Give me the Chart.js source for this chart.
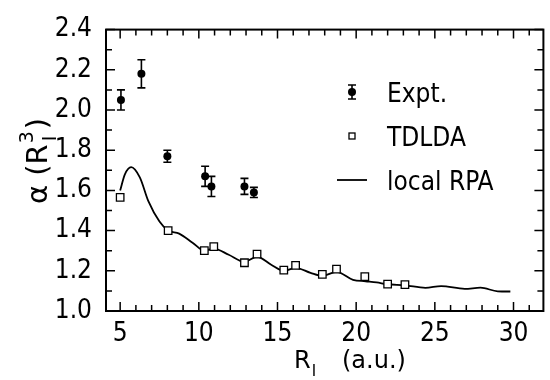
<!DOCTYPE html>
<html>
<head>
<meta charset="utf-8">
<script src="https://cdn.jsdelivr.net/npm/chart.js@4/dist/chart.umd.min.js"></script>
<style>
html,body{margin:0;padding:0;background:#fff;}
#wrap{width:550px;height:380px;}
</style>
</head>
<body>
<div id="wrap"><canvas id="c" width="550" height="380"></canvas></div>
<script>
// ---- data ----
const exptX   = [5.05, 6.35, 8.0, 10.4, 10.8, 12.9, 13.5];
const exptY   = [2.05, 2.18, 1.77, 1.67, 1.62, 1.62, 1.59];
const exptErr = [0.05, 0.07, 0.03, 0.05, 0.05, 0.04, 0.025];

const tdldaX = [5.0, 8.05, 10.35, 10.95, 12.9, 13.7, 15.4, 16.15, 17.85, 18.75, 20.55, 22.0, 23.1];
const tdldaY = [1.565, 1.40, 1.30, 1.32, 1.24, 1.283, 1.203, 1.227, 1.182, 1.208, 1.171, 1.134, 1.131];

const rpaX = [5.0, 5.3, 5.7, 6.25, 6.8, 7.5, 8.05, 8.75, 9.6, 10.35, 10.95, 11.9, 12.9, 13.7, 14.6, 15.4, 16.15, 17.1, 17.85, 18.75, 19.8, 20.6, 21.3, 22.0, 23.1, 24.4, 25.4, 26.9, 27.9, 29.0, 29.8];
const rpaY = [1.60, 1.68, 1.716, 1.665, 1.545, 1.445, 1.40, 1.385, 1.34, 1.30, 1.31, 1.28, 1.245, 1.27, 1.23, 1.20, 1.215, 1.19, 1.175, 1.195, 1.155, 1.148, 1.142, 1.133, 1.128, 1.115, 1.124, 1.11, 1.116, 1.098, 1.097];

const xTickLabels = [5, 10, 15, 20, 25, 30];
const yTickLabels = [1.0, 1.2, 1.4, 1.6, 1.8, 2.0, 2.2, 2.4];
const legendLabels = ["Expt.", "TDLDA", "local RPA"];

const pts = (xs, ys) => xs.map((x, i) => ({x: x, y: ys[i]}));

const TICKFONT = "'Liberation Sans Narrow','DejaVu Sans Condensed',sans-serif";
const TITLEFONT = "'DejaVu Sans','Liberation Sans',sans-serif";

const decor = {
  id: 'decor',
  beforeDatasetsDraw(chart) {
    const ctx = chart.ctx, xs = chart.scales.x, ys = chart.scales.y;
    ctx.save();
    ctx.strokeStyle = '#000';
    ctx.lineWidth = 1.6;
    const cap = 4;
    exptX.forEach((x, i) => {
      const px = xs.getPixelForValue(x);
      const t = ys.getPixelForValue(exptY[i] + exptErr[i]);
      const b = ys.getPixelForValue(exptY[i] - exptErr[i]);
      ctx.beginPath();
      ctx.moveTo(px, t); ctx.lineTo(px, b);
      ctx.moveTo(px - cap, t); ctx.lineTo(px + cap, t);
      ctx.moveTo(px - cap, b); ctx.lineTo(px + cap, b);
      ctx.stroke();
    });
    ctx.restore();
  },
  afterDraw(chart) {
    const ctx = chart.ctx, xs = chart.scales.x, ys = chart.scales.y;
    const a = chart.chartArea;
    ctx.save();
    ctx.strokeStyle = '#000';
    ctx.fillStyle = '#000';
    // frame
    ctx.lineWidth = 2;
    ctx.strokeRect(a.left, a.top, a.right - a.left, a.bottom - a.top);
    // inward ticks
    ctx.lineWidth = 1.5;
    ctx.beginPath();
    for (let v = 5; v <= 31; v++) {
      const px = xs.getPixelForValue(v);
      const len = (v % 5 === 0) ? 9 : 6;
      ctx.moveTo(px, a.bottom); ctx.lineTo(px, a.bottom - len);
      ctx.moveTo(px, a.top); ctx.lineTo(px, a.top + len);
    }
    for (let k = 10; k <= 24; k++) {
      const py = ys.getPixelForValue(k / 10);
      const len = (k % 2 === 0) ? 9 : 6;
      ctx.moveTo(a.left, py); ctx.lineTo(a.left + len, py);
      ctx.moveTo(a.right, py); ctx.lineTo(a.right - len, py);
    }
    ctx.stroke();

    // legend
    const lx = 352, tx = 387;
    const rows = [92, 136, 180];
    ctx.lineWidth = 1.6;
    ctx.beginPath();
    ctx.moveTo(lx, rows[0] - 7); ctx.lineTo(lx, rows[0] + 7);
    ctx.moveTo(lx - 4, rows[0] - 7); ctx.lineTo(lx + 4, rows[0] - 7);
    ctx.moveTo(lx - 4, rows[0] + 7); ctx.lineTo(lx + 4, rows[0] + 7);
    ctx.stroke();
    ctx.beginPath(); ctx.arc(lx, rows[0], 4, 0, Math.PI * 2); ctx.fill();
    ctx.lineWidth = 1.3;
    ctx.fillStyle = '#fff';
    ctx.fillRect(lx - 3, rows[1] - 3, 6, 6);
    ctx.strokeRect(lx - 3, rows[1] - 3, 6, 6);
    ctx.fillStyle = '#000';
    ctx.lineWidth = 1.8;
    ctx.beginPath(); ctx.moveTo(337, rows[2]); ctx.lineTo(367, rows[2]); ctx.stroke();
    ctx.font = "26px " + TICKFONT;
    ctx.textBaseline = 'alphabetic';
    ctx.textAlign = 'left';
    legendLabels.forEach((s, i) => ctx.fillText(s, tx, rows[i] + 9.5));

    // x title: R_I (a.u.)
    ctx.font = "24px " + TITLEFONT;
    let x0 = 294, by = 368;
    ctx.fillText("R", x0, by);
    let w = ctx.measureText("R").width;
    ctx.font = "15px " + TITLEFONT;
    ctx.fillText("I", x0 + w + 1, by + 8);
    ctx.font = "24px " + TITLEFONT;
    ctx.fillText("(a.u.)", 342, by);

    // y title: α (R^3_I)
    ctx.translate(47, 161);
    ctx.rotate(-Math.PI / 2);
    ctx.font = "29px " + TITLEFONT;
    const p1 = "\u03b1 (R";
    const w1 = ctx.measureText(p1).width;
    ctx.font = "19px " + TITLEFONT;
    const w3 = ctx.measureText("3").width;
    ctx.font = "29px " + TITLEFONT;
    const w4 = ctx.measureText(")").width;
    const total = w1 + w3 + 3 + w4;
    let sx = -total / 2;
    ctx.fillText(p1, sx, 0);
    ctx.font = "19px " + TITLEFONT;
    ctx.fillText("3", sx + w1 + 1, -14);
    ctx.fillText("I", sx + w1 + 3, 9);
    ctx.font = "29px " + TITLEFONT;
    ctx.fillText(")", sx + w1 + w3 + 3, 0);
    ctx.restore();
  }
};

new Chart(document.getElementById('c'), {
  type: 'scatter',
  data: {
    datasets: [
      {
        label: legendLabels[0],
        data: pts(exptX, exptY),
        pointStyle: 'circle',
        pointRadius: 4,
        backgroundColor: '#000',
        borderColor: '#000',
        borderWidth: 0,
        showLine: false,
        order: 1
      },
      {
        label: legendLabels[1],
        data: pts(tdldaX, tdldaY),
        pointStyle: 'rect',
        pointRadius: 5.3,
        backgroundColor: '#fff',
        borderColor: '#000',
        borderWidth: 1.3,
        showLine: false,
        order: 2
      },
      {
        label: legendLabels[2],
        data: pts(rpaX, rpaY),
        showLine: true,
        pointRadius: 0,
        borderColor: '#000',
        borderWidth: 1.8,
        cubicInterpolationMode: 'monotone',
        fill: false,
        order: 3
      }
    ]
  },
  options: {
    responsive: false,
    animation: false,
    devicePixelRatio: 1,
    layout: { padding: { left: 0, right: 2, top: 21, bottom: 0 } },
    plugins: { legend: { display: false }, tooltip: { enabled: false } },
    scales: {
      x: {
        type: 'linear',
        min: 4.1, max: 31.9,
        grid: { display: false, drawTicks: false },
        border: { display: false },
        afterBuildTicks: s => { s.ticks = xTickLabels.map(v => ({value: v})); },
        afterFit: s => { s.height = 69; },
        ticks: {
          padding: 8,
          color: '#000',
          font: { family: TICKFONT, size: 26 },
          maxRotation: 0,
          autoSkip: false,
          callback: v => String(v)
        }
      },
      y: {
        type: 'linear',
        min: 1.0, max: 2.4,
        grid: { display: false, drawTicks: false },
        border: { display: false },
        afterBuildTicks: s => { s.ticks = yTickLabels.map(v => ({value: v})); },
        afterFit: s => { s.width = 106; },
        ticks: {
          padding: 14,
          color: '#000',
          font: { family: TICKFONT, size: 26 },
          autoSkip: false,
          callback: v => Number(v).toFixed(1)
        }
      }
    }
  },
  plugins: [decor]
});
</script>
</body>
</html>
